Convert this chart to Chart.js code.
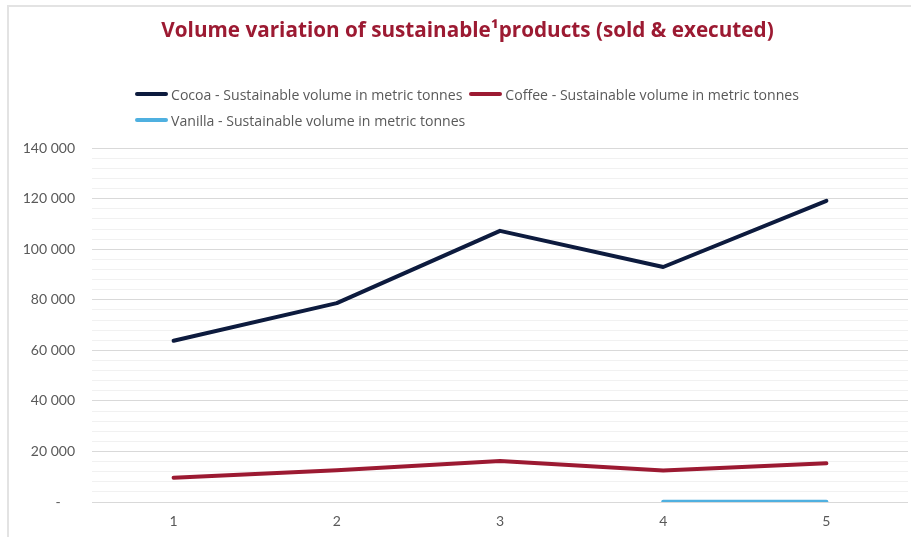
<!DOCTYPE html>
<html>
<head>
<meta charset="utf-8">
<script src="https://cdn.jsdelivr.net/npm/chart.js@4/dist/chart.umd.min.js"></script>
<style>
  html, body { margin: 0; padding: 0; background: #ffffff; }
  #page { position: relative; width: 911px; height: 537px; overflow: hidden; background: #fff; }
  #frame { position: absolute; left: 7px; top: 5px; width: 1000px; height: 1000px;
           border-top: 2px solid #e3e3e3; border-left: 2px solid #e3e3e3; box-sizing: border-box; }
  #chartBox { position: absolute; left: 8px; top: 6px; width: 919px; height: 531px; }
  #legend { position: absolute; left: 135px; top: 81px; width: 700px; display: flex; flex-wrap: wrap;
            font-family: "Open Sans", Lato, sans-serif; font-size: 14.1px; color: #595959; }
  .item { display: flex; align-items: center; height: 26px; margin-right: 7px; white-space: nowrap; }
  .swatch { display: inline-block; width: 33px; height: 4px; border-radius: 2px; margin-right: 3px; }
</style>
</head>
<body>
<div id="page">
  <div id="frame"></div>
  <div id="chartBox"><canvas id="c"></canvas></div>
  <div id="legend"></div>
</div>
<script>
const categories = ['1', '2', '3', '4', '5'];
const cocoa   = [63800, 78700, 107300, 93000, 119200];
const coffee  = [9600, 12600, 16200, 12500, 15300];
const vanilla = [null, null, null, 100, 120];
const seriesNames = [
  'Cocoa - Sustainable volume in metric tonnes',
  'Coffee - Sustainable volume in metric tonnes',
  'Vanilla - Sustainable volume in metric tonnes'
];
const seriesColors = ['#0d1b3e', '#9c1a32', '#4fb0e0'];
const yMajorTicks = [0, 20000, 40000, 60000, 80000, 100000, 120000, 140000];
const yMinorStep = 4000;
const titleText = 'Volume variation of sustainable\u00B9products (sold & executed)';

function fmt(v) {
  if (v === 0) return '-    ';
  return String(v).replace(/\B(?=(\d{3})+(?!\d))/g, ' ');
}

const htmlLegend = {
  id: 'htmlLegend',
  afterUpdate(chart) {
    const box = document.getElementById('legend');
    box.innerHTML = '';
    chart.data.datasets.forEach(ds => {
      const it = document.createElement('div');
      it.className = 'item';
      const sw = document.createElement('span');
      sw.className = 'swatch';
      sw.style.background = ds.borderColor;
      const tx = document.createElement('span');
      tx.textContent = ds.label;
      it.appendChild(sw); it.appendChild(tx);
      box.appendChild(it);
    });
  }
};

const mkDs = (i, data) => ({
  label: seriesNames[i], data, borderColor: seriesColors[i], backgroundColor: seriesColors[i],
  borderWidth: 4, pointRadius: 0, pointHoverRadius: 0, tension: 0,
  borderCapStyle: 'round', borderJoinStyle: 'round', fill: false, spanGaps: false
});

new Chart(document.getElementById('c'), {
  type: 'line',
  data: {
    labels: categories,
    datasets: [mkDs(0, cocoa), mkDs(1, coffee), mkDs(2, vanilla)]
  },
  plugins: [htmlLegend],
  options: {
    responsive: true,
    maintainAspectRatio: false,
    animation: false,
    layout: { padding: 0 },
    plugins: {
      legend: { display: false },
      tooltip: { enabled: false },
      title: {
        display: true,
        text: titleText,
        color: '#9c1a32',
        font: { family: 'Open Sans', size: 20.7, weight: 'bold', lineHeight: 1.2 },
        padding: { top: 13, bottom: 104.4 }
      }
    },
    scales: {
      x: {
        offset: true,
        grid: { display: false, drawTicks: false },
        border: { display: false },
        ticks: { color: '#595959', font: { family: 'Lato', size: 14 }, padding: 11 },
        afterFit(s) { s.height = 35; }
      },
      y: {
        min: 0, max: 140000,
        grid: {
          drawTicks: false,
          lineWidth: 1,
          color: ctx => (ctx.tick && yMajorTicks.includes(ctx.tick.value)) ? '#d9d9d9' : '#f1f1f1'
        },
        border: { display: false },
        afterBuildTicks(s) {
          const t = [];
          for (let v = 0; v <= 140000; v += yMinorStep) t.push({ value: v });
          s.ticks = t;
        },
        ticks: {
          autoSkip: false,
          color: '#595959',
          font: { family: 'Lato', size: 14 },
          padding: 17,
          callback: v => yMajorTicks.includes(v) ? fmt(v) : ''
        },
        afterFit(s) { s.width = 84; }
      },
      yR: {
        position: 'right',
        display: true,
        grid: { display: false, drawTicks: false },
        border: { display: false },
        ticks: { display: false },
        afterFit(s) { s.width = 19; }
      }
    }
  }
});
</script>
</body>
</html>
